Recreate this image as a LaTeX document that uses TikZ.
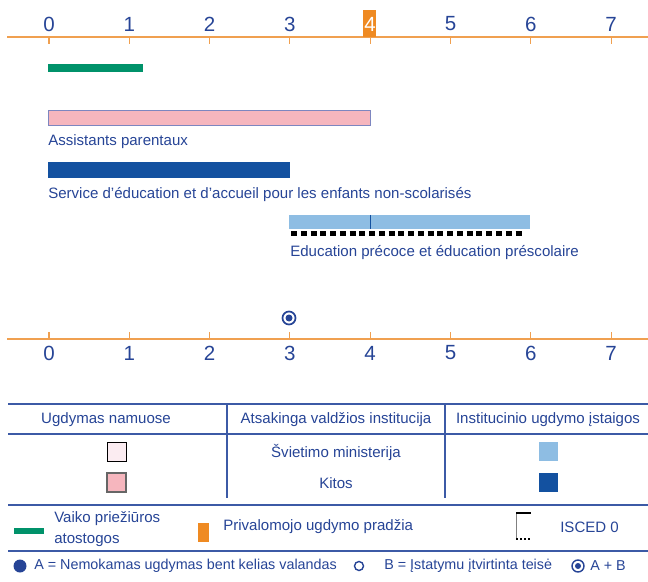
\documentclass[tikz,border=0pt]{standalone}
\usepackage{fontspec}
\setmainfont{Liberation Sans}
\usetikzlibrary{positioning}
\definecolor{txtblue}{RGB}{38,68,150}
\definecolor{axisorange}{RGB}{240,160,80}
\definecolor{startorange}{RGB}{239,138,34}
\definecolor{leavegreen}{RGB}{0,146,106}
\definecolor{homepink}{RGB}{246,182,190}
\definecolor{homepinklight}{RGB}{251,236,241}
\definecolor{pinkframe}{RGB}{125,134,192}
\definecolor{instdark}{RGB}{19,81,160}
\definecolor{instlight}{RGB}{142,189,227}
\definecolor{tableblue}{RGB}{60,90,166}
\tikzset{
  lbl/.style={font=\fontsize{10.7}{15}\selectfont, text=txtblue, inner sep=0pt},
  keylbl/.style={lbl, font=\fontsize{10.2}{12}\selectfont},
  agenum/.style={font=\fontsize{14.6}{16}\selectfont, text=txtblue, inner sep=0pt},
  axisline/.style={draw=axisorange, line width=1.4pt},
  axistick/.style={draw=axisorange, line width=0.8pt},
  tableline/.style={draw=tableblue, line width=1.4pt},
  colline/.style={draw=tableblue, line width=1pt},
  iscedline/.style={black, dash pattern=on 0.15cm off 0.094cm},
}

\begin{document}
\begin{tikzpicture}[x=0.025cm, y=-0.025cm]
    \useasboundingbox (0,0) rectangle (648,582);
    %, Top axis ---
    \draw[axisline] (7,37) -- (648,37);
    \foreach \i in {0,...,7}
        \draw[axistick] ({49+80.3*\i},37) -- ++(0,7);
    \fill[startorange] (363,10) rectangle (376,37);
    \foreach \i in {0,1,2,3,5,6,7}
        \node[agenum] (top\i) at ({49+80.3*\i},24) {\i};
    \node[agenum, text=white] (top4) at ({49+80.3*4},24) {4};

    %, Bars ---
    \fill[leavegreen] (48,64) rectangle (143,72);
    \filldraw[fill=homepink, draw=pinkframe, line width=0.6pt] (48,110) rectangle (370,125);
    \node[lbl, anchor=west] (apar) at (48,142) {Assistants parentaux};
    \fill[instdark] (48,162) rectangle (290,178);
    \node[lbl, anchor=west] (sedes) at (48,195) {Service d’éducation et d’accueil pour les enfants non-scolarisés};
    \fill[instlight] (289,215) rectangle (530,229);
    \draw[instdark, line width=0.5pt] (370,215) -- (370,229);
    \draw[iscedline, line width=3.5pt] (291,233.5) -- (525,233.5);
    \node[lbl, anchor=west] (epep) at (290,253) {Education précoce et éducation préscolaire};

    % A + B marker
    \draw[txtblue, line width=1.2pt] (289,318) circle (6.5);
    \fill[txtblue] (289,318) circle (3.5);

    %, Bottom axis ---
    \draw[axisline] (7,339) -- (648,339);
    \foreach \i in {0,...,7}{
        \draw[axistick] ({49+80.3*\i},339) -- ++(0,-7);
        \node[agenum] (bot\i) at ({49+80.3*\i},353) {\i};
    }

    %, Table ---
    \draw[tableline] (8,404) -- (648,404);
    \draw[tableline] (8,434) -- (648,434);
    \draw[colline] (227,404) -- (227,498);
    \draw[colline] (445,404) -- (445,498);
    \node[lbl] (hhome) at (106,420) {Ugdymas namuose};
    \node[lbl] (hauth) at (336,420) {Atsakinga valdžios institucija};
    \node[lbl] (hinst) at (548,420) {Institucinio ugdymo įstaigos};
    \filldraw[fill=homepinklight, draw=black, line width=0.6pt] (107,442) rectangle (126,461);
    \node[lbl] (mins) at (336,452) {Švietimo ministerija};
    \fill[instlight] (539,442) rectangle (558,461);
    \filldraw[fill=homepink, draw=black!60, line width=0.8pt] (107,473) rectangle (126,492);
    \node[lbl] (othr) at (336,483) {Kitos};
    \fill[instdark] (539,473) rectangle (558,492);

    %, Legend ---
    \draw[tableline] (8,505) -- (648,505);
    \fill[leavegreen] (14,528) rectangle (44,534);
    \node[lbl, anchor=west, align=left] (leave) at (54,529.5) {Vaiko priežiūros\\atostogos};
    \fill[startorange] (198,523) rectangle (209,542);
    \node[lbl, anchor=west] (cstart) at (223,527) {Privalomojo ugdymo pradžia};
    \draw[gray, line width=0.4pt] (516,513) -- (516,540);
    \draw[black, line width=0.8pt] (516,513) -- (531,513);
    \draw[black, line width=1.6pt, dash pattern=on 0.06cm off 0.04cm] (516,539) -- (531,539);
    \node[lbl, anchor=west] (isced) at (560,527) {ISCED 0};
    \draw[tableline] (8,551) -- (648,551);

    \fill[txtblue] (20,566) circle (6.5);
    \node[keylbl, anchor=west] (keya) at (34,566) {A = Nemokamas ugdymas bent kelias valandas};
    \draw[txtblue, line width=1pt] (359,566) circle (4.5);
    \node[keylbl, anchor=west] (keyb) at (384,566) {B = Įstatymu įtvirtinta teisė};
    \draw[txtblue, line width=1pt] (578,566) circle (6);
    \fill[txtblue] (578,566) circle (3);
    \node[keylbl, anchor=west] (keyab) at (590,566) {A + B};
\end{tikzpicture}
\end{document}
